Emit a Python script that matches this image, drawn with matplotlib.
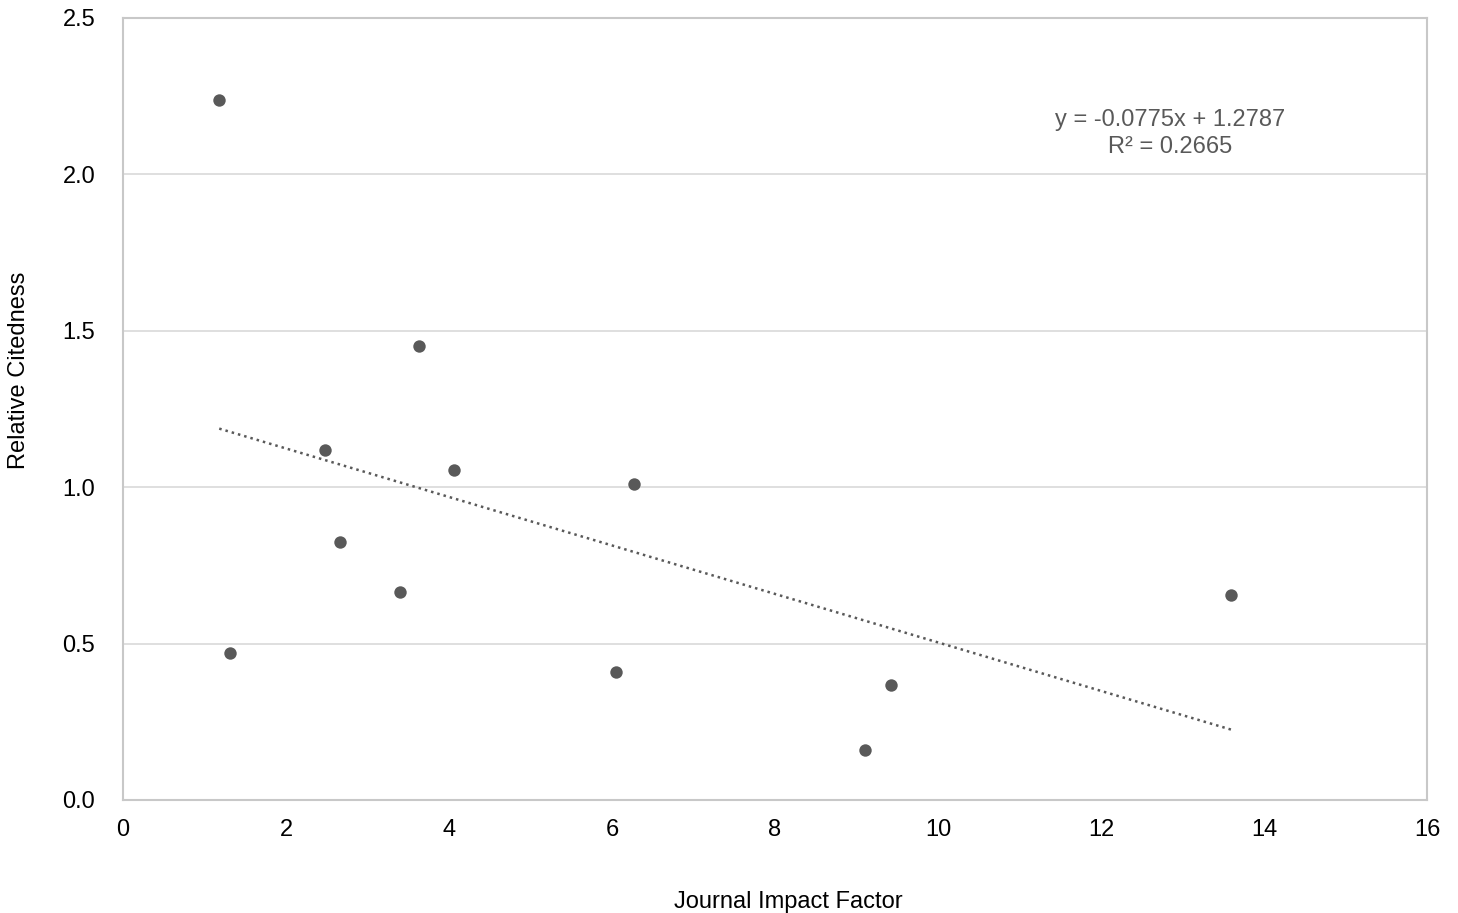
import numpy as np
import matplotlib
matplotlib.use('Agg')
import matplotlib.pyplot as plt

# data
impact_factor = [1.18, 1.31, 2.48, 2.66, 3.40, 3.63, 4.06, 6.05, 6.27, 9.10, 9.42, 13.60]
citedness = [2.238, 0.470, 1.119, 0.825, 0.665, 1.451, 1.055, 0.409, 1.010, 0.160, 0.368, 0.655]
slope = -0.0775
intercept = 1.2787
r_squared = 0.2665
x_ticks = [0, 2, 4, 6, 8, 10, 12, 14, 16]
y_ticks = [0.0, 0.5, 1.0, 1.5, 2.0, 2.5]

plt.rcParams['font.family'] = ['Liberation Sans', 'DejaVu Sans']

fig = plt.figure(figsize=(14.58, 9.13), dpi=100)
ax = fig.add_axes([0.0844, 0.1238, 0.8943, 0.8565])

dot_color = '#595959'
grid_color = '#d9d9d9'
fs = 17

ax.scatter(impact_factor, citedness, s=80, color=dot_color, zorder=3, linewidths=0)

# linear trendline over the data range
xs = np.array([min(impact_factor), max(impact_factor)])
ax.plot(xs, slope * xs + intercept, linestyle=(0, (1, 1.6)), color=dot_color,
        lw=1.8, zorder=2)

ax.text(12.85, 2.175, 'y = %.4fx + %.4f' % (slope, intercept), ha='center',
        va='center', fontsize=fs, color=dot_color)
ax.text(12.85, 2.088, 'R² = %.4f' % r_squared, ha='center', va='center',
        fontsize=fs, color=dot_color)

ax.set_xlim(0, 16)
ax.set_ylim(0, 2.5)
ax.set_xticks(x_ticks)
ax.set_yticks(y_ticks)
ax.set_xticklabels([str(t) for t in x_ticks])
ax.set_yticklabels(['%.1f' % t for t in y_ticks])
ax.tick_params(axis='both', length=0, labelsize=fs, colors='black')
ax.tick_params(axis='x', pad=14)
ax.tick_params(axis='y', pad=20)

ax.grid(axis='y', color=grid_color, lw=1.2)
ax.set_axisbelow(True)
for s in ax.spines.values():
    s.set_color('#c8c8c8')
    s.set_linewidth(1.5)

ax.set_xlabel('Journal Impact Factor', fontsize=fs)
ax.set_ylabel('Relative Citedness', fontsize=fs)
ax.xaxis.set_label_coords(0.51, -0.117)
ax.yaxis.set_label_coords(-0.071, 0.55)

fig.savefig('out.png', dpi=100)
